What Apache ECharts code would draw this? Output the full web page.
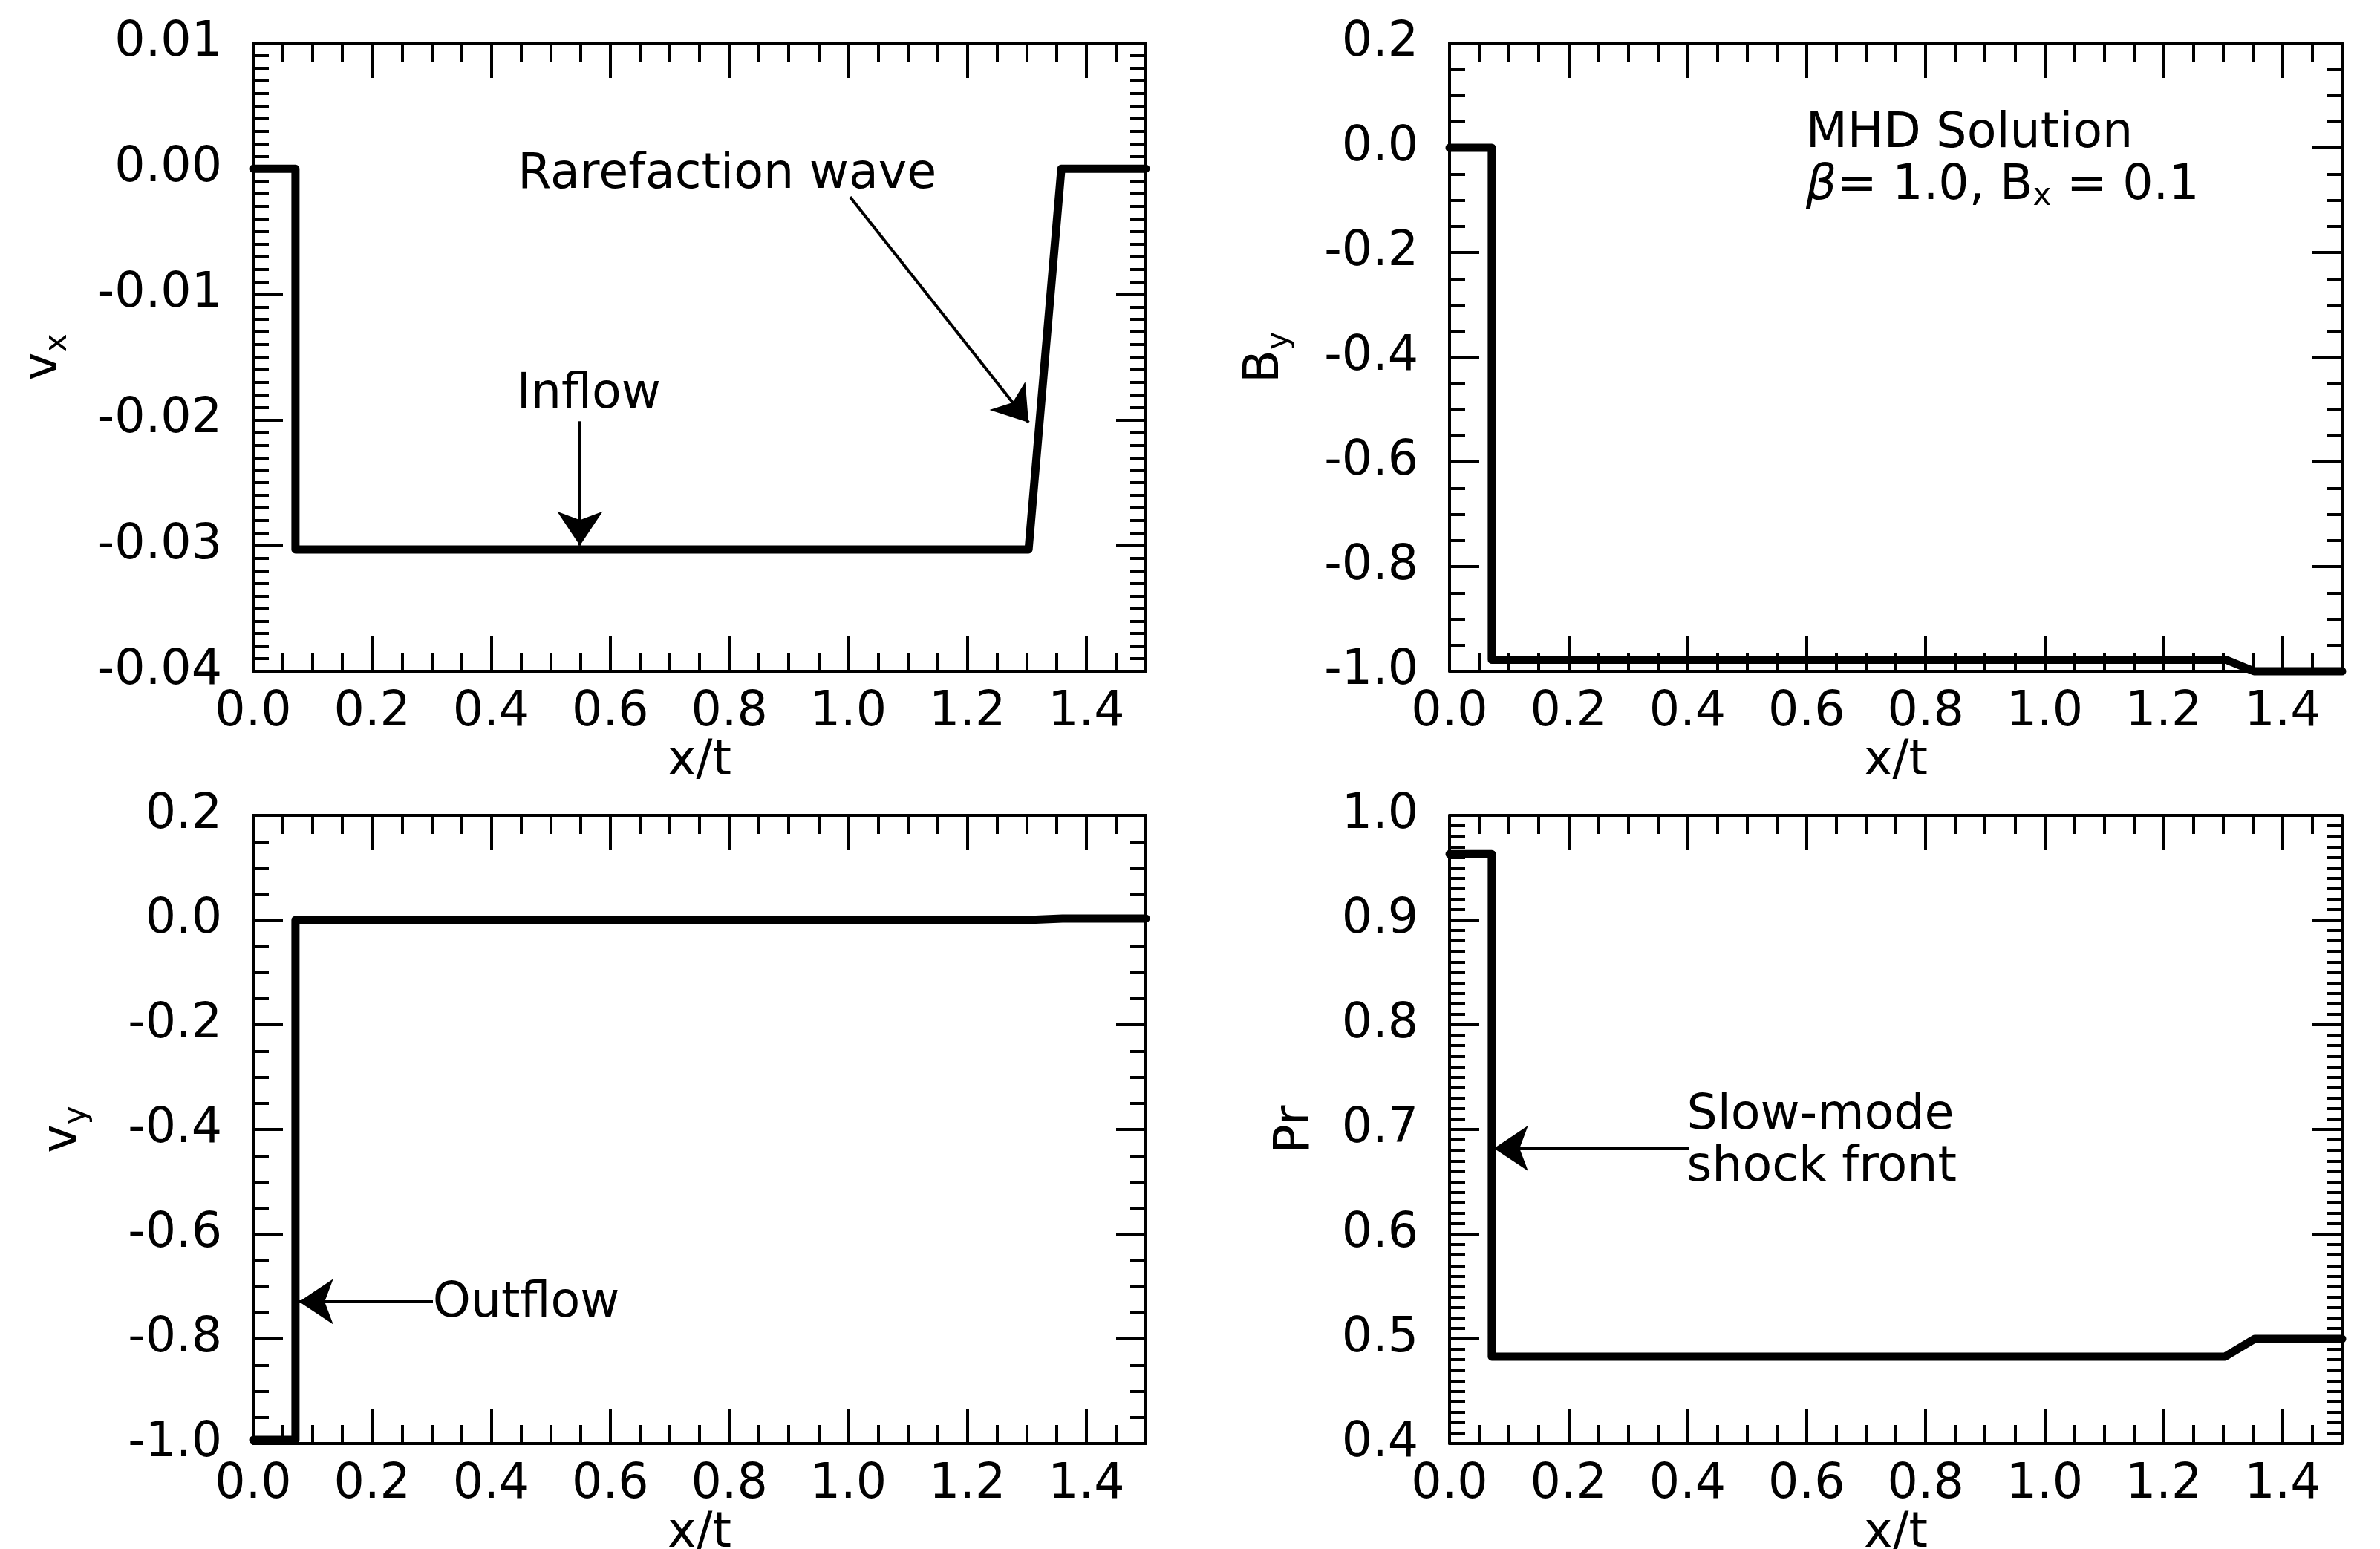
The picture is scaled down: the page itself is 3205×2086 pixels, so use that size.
<!DOCTYPE html>
<html><head><meta charset="utf-8">
<script src="https://cdn.jsdelivr.net/npm/echarts@6/dist/echarts.min.js"></script>
<style>html,body{margin:0;padding:0;background:#fff}#c{width:3205px;height:2086px}</style>
</head><body><div id="c"></div>
<script>
// ---------------- data ----------------
const vxX = [0, 0.071, 0.071, 1.303, 1.358, 1.5];
const vxY = [0, 0, -0.0303, -0.0303, 0, 0];

const byX = [0, 0.071, 0.071, 1.305, 1.352, 1.5];
const byY = [0, 0, -0.978, -0.978, -1.0, -1.0];

const vyX = [0, 0.071, 0.071, 1.30, 1.36, 1.5];
const vyY = [-0.993, -0.993, 0, 0, 0.003, 0.003];

const prX = [0, 0.071, 0.071, 1.303, 1.353, 1.5];
const prY = [0.963, 0.963, 0.483, 0.483, 0.500, 0.500];

// axis ranges / tick steps
const xRange = [0, 1.5];
const xMajor = 0.2, xMinor = 0.05;
const yRanges = [[-0.04, 0.01], [-1.0, 0.2], [-1.0, 0.2], [0.4, 1.0]];
const yMajor = [0.01, 0.2, 0.2, 0.1];
const yMinorSplit = [10, 4, 4, 10];
const yDecimals = [2, 1, 1, 1];
const yNames = ['{m|v}{s|x}', '{m|B}{s|y}', '{m|v}{s|y}', '{m|Pr}'];
const xName = 'x/t';

// annotations (data coordinates of each panel)
const notes = [
  {panel: 0, at: [0.444, -0.0005], text: 'Rarefaction wave'},
  {panel: 0, at: [0.442, -0.0180], text: 'Inflow'},
  {panel: 1, at: [0.598, -0.0237], text: 'MHD Solution\n{b|β}= 1.0, B{s|x} = 0.1'},
  {panel: 2, at: [0.301, -0.733], text: 'Outflow'},
  {panel: 3, at: [0.398, 0.688], text: 'Slow-mode\nshock front'}
];
const arrows = [
  {panel: 0, from: [1.003, -0.00225], to: [1.303, -0.0202]},
  {panel: 0, from: [0.549, -0.0201], to: [0.549, -0.0300]},
  {panel: 2, from: [0.302, -0.729], to: [0.077, -0.729]},
  {panel: 3, from: [0.402, 0.682], to: [0.0746, 0.682]}
];

// ---------------- layout / style ----------------
const FONT = 'DejaVu Sans';
const BLACK = '#000';
const gridPos = [[341, 58], [1952, 58], [341, 1098], [1952, 1098]];
const GW = 1202, GH = 846;
const yNameGap = [242, 208, 216, 167];
const seriesData = [[vxX, vxY], [byX, byY], [vyX, vyY], [prX, prY]];

const axisLineStyle = {color: BLACK, width: 4};
const tickLine = {color: BLACK, width: 4};
const labelStyle = {fontFamily: FONT, fontSize: 65, color: BLACK};
const nameRich = {
  m: {fontFamily: FONT, fontSize: 65, lineHeight: 80, color: BLACK},
  s: {fontFamily: FONT, fontSize: 42, lineHeight: 28, verticalAlign: 'bottom', color: BLACK}
};

const grids = [], xAxes = [], yAxes = [], series = [];
function fmt(v, d) { if (Math.abs(v) < 1e-9) v = 0; return v.toFixed(d); }

for (let p = 0; p < 4; p++) {
  grids.push({left: gridPos[p][0], top: gridPos[p][1], width: GW, height: GH,
    containLabel: false, outerBoundsMode: 'none'});
  const xBase = {gridIndex: p, type: 'value', min: xRange[0], max: xRange[1], splitLine: {show: false}};
  const xMainIdx = xAxes.length;
  xAxes.push(Object.assign({}, xBase, {
    position: 'bottom', interval: xMajor,
    axisLine: {show: true, onZero: false, lineStyle: axisLineStyle},
    axisTick: {show: true, inside: true, length: 47, lineStyle: tickLine},
    axisLabel: Object.assign({show: true, margin: 24, showMaxLabel: false, formatter: v => fmt(v, 1)}, labelStyle),
    name: xName, nameLocation: 'middle', nameGap: 88,
    nameTextStyle: {fontFamily: FONT, fontSize: 65, color: BLACK}
  }));
  xAxes.push(Object.assign({}, xBase, {
    position: 'bottom', interval: xMinor,
    axisLine: {show: false, onZero: false},
    axisTick: {show: true, inside: true, length: 25, lineStyle: tickLine},
    axisLabel: {show: false}
  }));
  xAxes.push(Object.assign({}, xBase, {
    position: 'top', interval: xMajor,
    axisLine: {show: true, onZero: false, lineStyle: axisLineStyle},
    axisTick: {show: true, inside: true, length: 47, lineStyle: tickLine},
    axisLabel: {show: false}
  }));
  xAxes.push(Object.assign({}, xBase, {
    position: 'top', interval: xMinor,
    axisLine: {show: false, onZero: false},
    axisTick: {show: true, inside: true, length: 25, lineStyle: tickLine},
    axisLabel: {show: false}
  }));

  const yBase = {
    gridIndex: p, type: 'value', min: yRanges[p][0], max: yRanges[p][1], interval: yMajor[p],
    splitLine: {show: false},
    axisLine: {show: true, onZero: false, lineStyle: axisLineStyle},
    axisTick: {show: true, inside: true, length: 40, lineStyle: tickLine},
    minorTick: {show: true, splitNumber: yMinorSplit[p], length: 21, lineStyle: tickLine},
    minorSplitLine: {show: false}
  };
  const yMainIdx = yAxes.length;
  const dec = yDecimals[p];
  yAxes.push(Object.assign({}, yBase, {
    position: 'left',
    axisLabel: Object.assign({show: true, margin: 42, padding: [6, 0, 0, 0], formatter: v => fmt(v, dec)}, labelStyle),
    name: yNames[p], nameLocation: 'middle', nameGap: yNameGap[p], nameRotate: 90,
    nameTextStyle: {fontFamily: FONT, fontSize: 65, color: BLACK, rich: nameRich}
  }));
  yAxes.push(Object.assign({}, yBase, {position: 'right', axisLabel: {show: false}}));

  const xs = seriesData[p][0], ys = seriesData[p][1];
  const myNotes = notes.filter(n => n.panel === p);
  const myArrows = arrows.filter(a => a.panel === p);
  series.push({
    type: 'line', xAxisIndex: xMainIdx, yAxisIndex: yMainIdx,
    data: xs.map((v, i) => [v, ys[i]]),
    showSymbol: false, symbol: 'none', clip: false, silent: true, animation: false,
    lineStyle: {color: BLACK, width: 11, join: 'round', cap: 'round'},
    markPoint: {
      silent: true, animation: false, symbol: 'circle', symbolSize: 1,
      itemStyle: {color: 'rgba(0,0,0,0)'},
      data: myNotes.map(n => ({
        coord: n.at,
        label: {
          show: true, position: 'right', distance: 0, formatter: n.text,
          fontFamily: FONT, fontSize: 65, lineHeight: 70, color: BLACK, align: 'left',
          rich: {
            b: {fontFamily: FONT, fontSize: 65, lineHeight: 70, fontStyle: 'italic', color: BLACK},
            s: {fontFamily: FONT, fontSize: 42, lineHeight: 20, verticalAlign: 'bottom', color: BLACK}
          }
        }
      }))
    },
    markLine: {
      silent: true, animation: false, symbol: ['none', 'arrow'], symbolSize: [46, 46],
      lineStyle: {color: BLACK, width: 4, type: 'solid'},
      label: {show: false}, emphasis: {disabled: true},
      data: myArrows.map(a => [{coord: a.from}, {coord: a.to}])
    }
  });
}

const chart = echarts.init(document.getElementById('c'), null, {renderer: 'canvas'});
chart.setOption({
  animation: false, backgroundColor: '#fff',
  grid: grids, xAxis: xAxes, yAxis: yAxes, series: series
});
</script></body></html>
